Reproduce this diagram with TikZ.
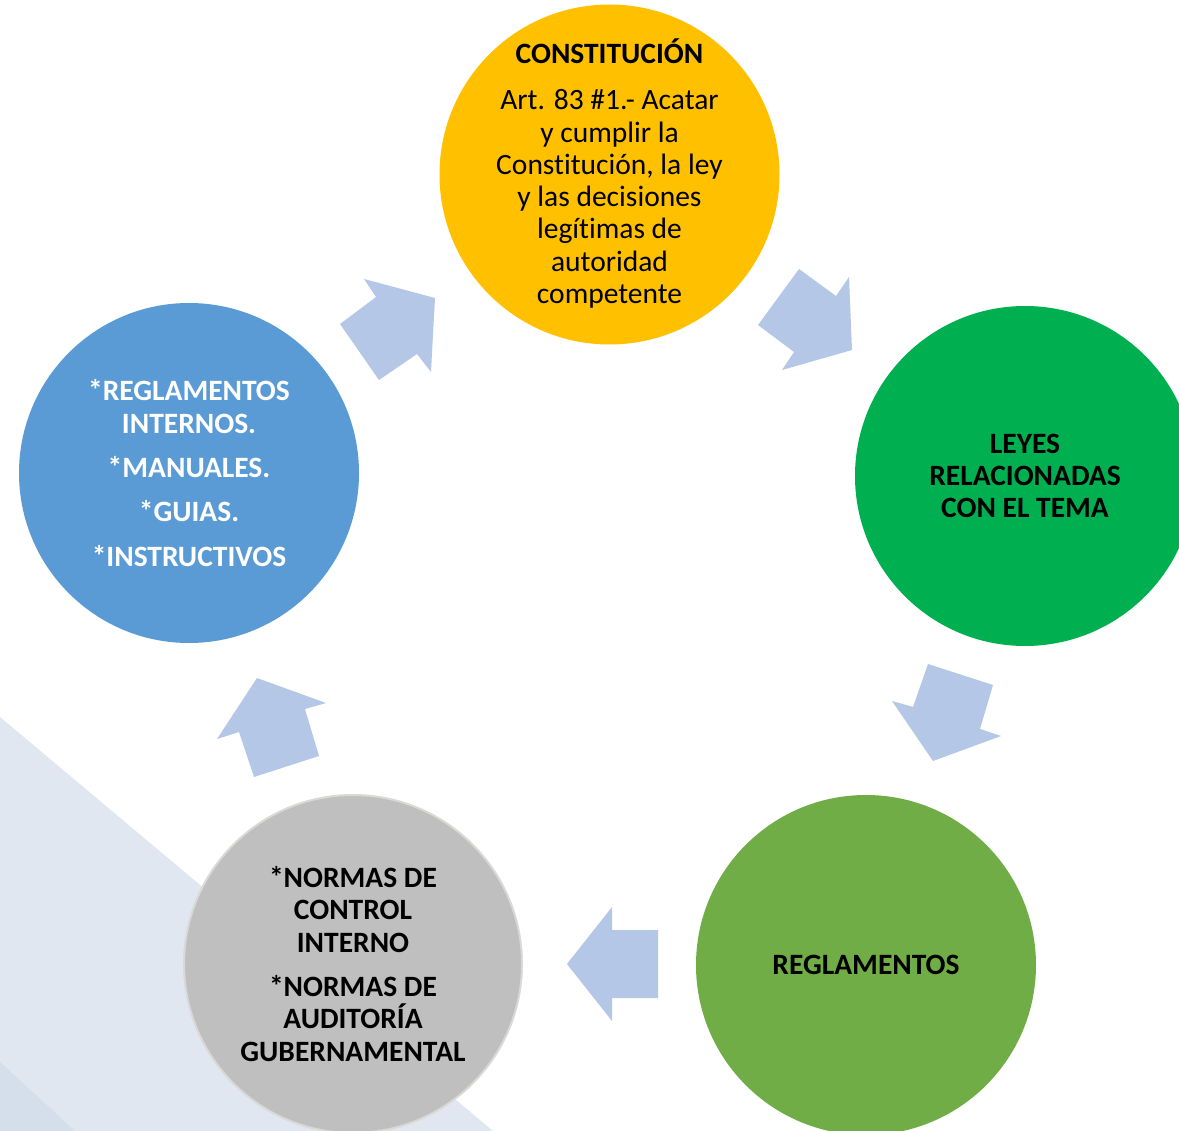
\documentclass[tikz,border=0pt]{standalone}
\usepackage{fontspec}
\setmainfont{Carlito}[Ligatures=NoCommon]
\definecolor{cyellow}{HTML}{FFC000}
\definecolor{cgreen}{HTML}{00B050}
\definecolor{clgreen}{HTML}{70AD47}
\definecolor{cgrey}{HTML}{BFBFBF}
\definecolor{cgreyline}{HTML}{D9D9D6}
\definecolor{cblue}{HTML}{5B9BD5}
\definecolor{carrow}{HTML}{B4C7E7}
\definecolor{cband}{HTML}{E0E7F1}
\definecolor{cbanddark}{HTML}{D5DEEB}
\begin{document}
\begin{tikzpicture}[x=1pt,y=-1pt,
  bubble/.style={circle,minimum size=340pt,inner sep=0pt},
  bubbletext/.style={inner sep=0pt,align=center,font=\fontsize{29.5}{32.3}\selectfont},
  boldtext/.style={inner sep=0pt,align=center,font=\bfseries\fontsize{29.5}{32.3}\selectfont},
  blockarrow/.style={fill=carrow,draw=none}]
\useasboundingbox (0,0) rectangle (1179,1131);
\clip (0,0) rectangle (1179,1131);
\fill[white] (0,0) rectangle (1179,1131);
% background band
\fill[cband] (0,717) -- (493,1131) -- (0,1131) -- cycle;
\fill[cbanddark] (0,1062) -- (75,1131) -- (0,1131) -- cycle;
% circles
\node[bubble,fill=cyellow] (const) at (609.5,174.5) {};
\node[bubbletext] (constT) at ([yshift=1pt]const.center)
  {\textbf{CONSTITUCIÓN}\\[14pt]Art. 83 \#1.- Acatar\\y cumplir la\\Constitución, la ley\\y las decisiones\\legítimas de\\autoridad\\competente};
\node[bubble,fill=cgreen] (leyes) at (1025,476) {};
\node[boldtext] (leyesT) at (leyes.center) {LEYES\\RELACIONADAS\\CON EL TEMA};
\node[bubble,fill=clgreen] (regl) at (866,965) {};
\node[boldtext] (reglT) at (regl.center) {REGLAMENTOS};
\node[bubble,fill=cgrey,draw=cgreyline,line width=2pt,minimum size=338pt] (normas) at (353,964) {};
\node[boldtext] (normasT) at (normas.center)
  {*NORMAS DE\\CONTROL\\INTERNO\\[12pt]*NORMAS DE\\AUDITORÍA\\GUBERNAMENTAL};
\node[bubble,fill=cblue] (internos) at (189,473) {};
\node[boldtext,text=white] (internosT) at (internos.center)
  {*REGLAMENTOS\\INTERNOS.\\[12pt]*MANUALES.\\[12pt]*GUIAS.\\[12pt]*INSTRUCTIVOS};
% block arrows
\fill[blockarrow] (340,324) -- (376,297) -- (364,279) -- (435,298) -- (431,372) -- (417,354) -- (379,380) -- cycle;
\fill[blockarrow] (758,325) -- (799,269) -- (836,296) -- (849,277) -- (852,350) -- (782,370) -- (794,352) -- cycle;
\fill[blockarrow] (928,664) -- (993,685) -- (980,729) -- (1001,736) -- (933,761) -- (892,701) -- (913,707) -- cycle;
\fill[blockarrow] (658,930) -- (658,998) -- (612,998) -- (612,1021) -- (567,964) -- (612,907) -- (612,930) -- cycle;
\fill[blockarrow] (254,777) -- (239,732) -- (217,739) -- (257,678) -- (326,703) -- (305,709) -- (319,756) -- cycle;
\end{tikzpicture}
\end{document}
